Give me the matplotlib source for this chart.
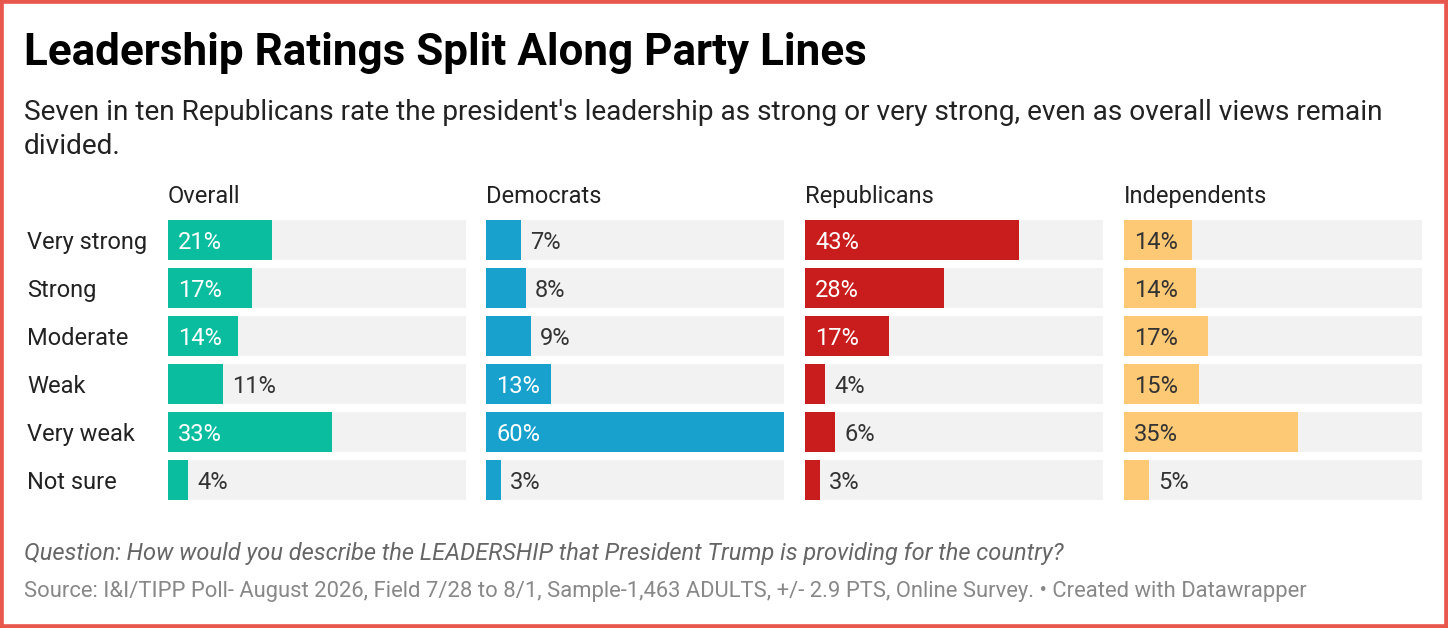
import matplotlib
matplotlib.use("Agg")
import matplotlib.pyplot as plt
from matplotlib.patches import Rectangle
from matplotlib.transforms import blended_transform_factory

plt.rcParams['font.family'] = ['Roboto', 'DejaVu Sans']

# data
rows = ["Very strong", "Strong", "Moderate", "Weak", "Very weak", "Not sure"]
groups = ["Overall", "Democrats", "Republicans", "Independents"]
overall = [21, 17, 14, 11, 33, 4]
democrats = [7, 8, 9, 13, 60, 3]
republicans = [43, 28, 17, 4, 6, 3]
independents = [13.6, 14.4, 17, 15, 35, 5]
colors = ["#0bbd9f", "#18a1cd", "#c91d1d", "#fec974"]
inside_text = ["white", "white", "white", "#333333"]

W, H = 1448, 628
fig = plt.figure(figsize=(W / 100, H / 100), dpi=100)
fig.patch.set_facecolor("white")

def fy(px):
    return 1 - px / H

fig.text(24 / W, fy(65), "Leadership Ratings Split Along Party Lines",
         fontsize=31.7, fontweight="bold", color="#000000", va="baseline")
fig.text(24 / W, fy(120), "Seven in ten Republicans rate the president's leadership as strong or very strong, even as overall views remain",
         fontsize=20.2, color="#222222", va="baseline")
fig.text(24 / W, fy(154), "divided.", fontsize=20.2, color="#222222", va="baseline")

lefts = [168, 486, 805, 1124]
pw = 298
top, bottom = 220, 500
bh = 40 / 48
series = [overall, democrats, republicans, independents]

for i, (g, vals) in enumerate(zip(groups, series)):
    ax = fig.add_axes([lefts[i] / W, fy(bottom), pw / W, (bottom - top) / H])
    ypos = list(range(len(rows)))
    ax.barh(ypos, [60] * len(rows), height=bh, color="#f2f2f2", zorder=1)
    ax.barh(ypos, vals, height=bh, color=colors[i], zorder=2)
    ax.set_xlim(0, 60)
    ax.set_ylim(len(rows) - 1 + bh / 2, -bh / 2)
    ax.axis("off")
    for y, v in zip(ypos, vals):
        lab = f"{v:.0f}%"
        if v >= 12:
            ax.annotate(lab, (0, y), xytext=(7.2, 0), textcoords="offset points",
                        ha="left", va="center_baseline", fontsize=17, color=inside_text[i])
        else:
            ax.annotate(lab, (v, y), xytext=(6.8, 0), textcoords="offset points",
                        ha="left", va="center_baseline", fontsize=17, color="#333333")
    fig.text(lefts[i] / W, fy(203), g, fontsize=17, color="#222222", va="baseline")
    if i == 0:
        tr = blended_transform_factory(fig.transFigure, ax.transData)
        for y, r in zip(ypos, rows):
            fig.text(27 / W, y, r, transform=tr, fontsize=17, color="#222222",
                     va="center_baseline", ha="left")

fig.text(24 / W, fy(560), "Question: How would you describe the LEADERSHIP that President Trump is providing for the country?",
         fontsize=17, style="italic", color="#666666", va="baseline")
fig.text(24 / W, fy(597), "Source: I&I/TIPP Poll- August 2026, Field 7/28 to 8/1, Sample-1,463 ADULTS, +/- 2.9 PTS, Online Survey. \u2022 Created with Datawrapper",
         fontsize=15.85, color="#888888", va="baseline")

fig.patches.append(Rectangle((0, 0), 1, 1, transform=fig.transFigure, fill=False,
                             edgecolor="#e8574c", linewidth=5.5, zorder=10))

fig.savefig("out.png", dpi=100, facecolor="white")
